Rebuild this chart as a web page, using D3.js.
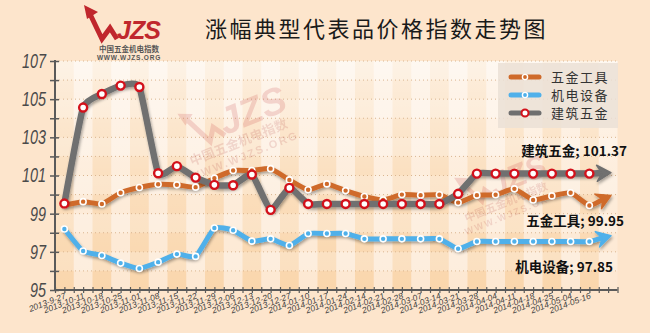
<!DOCTYPE html>
<html>
<head>
<meta charset="utf-8">
<script src="https://cdn.jsdelivr.net/npm/d3@7"></script>
<style>
  body { margin: 0; background: #fde5cc; }
  svg { display: block; }
</style>
</head>
<body>
<svg id="chart"></svg>
<script>
// data
let dates = ['2013-9-27', '2013-10-11', '2013-10-18', '2013-10-25', '2013-11-01', '2013-11-08',
  '2013-11-15', '2013-11-22', '2013-11-29', '2013-12-06', '2013-12-13', '2013-12-20', '2013-12-27',
  '2014-01-10', '2014-01-17', '2014-01-24', '2014-02-14', '2014-02-21', '2014-02-28', '2014-03-07',
  '2014-03-14', '2014-03-21', '2014-03-28', '2014-04-04', '2014-04-11', '2014-04-18', '2014-04-25',
  '2014-05-04', '2014-05-16'];

let tools = [99.45, 99.63, 99.51, 100.1, 100.37, 100.54, 100.51, 100.39, 100.86, 101.26, 101.26, 101.36,
  100.77, 100.25, 100.56, 100.21, 99.9, 99.72, 100.0, 99.97, 99.99, 99.58, 99.97, 99.99, 100.3, 99.72,
  99.93, 100.1, 99.43];
let electric = [98.2, 97.04, 96.81, 96.41, 96.13, 96.46, 96.88, 96.76, 98.25, 98.13, 97.56, 97.68, 97.33,
  97.96, 97.96, 97.96, 97.68, 97.68, 97.68, 97.68, 97.68, 97.16, 97.54, 97.54, 97.54, 97.54, 97.54,
  97.54, 97.54];
let building = [99.53, 104.56, 105.27, 105.71, 105.64, 101.12, 101.49, 100.89, 100.51, 100.49, 101.05,
  99.2, 100.35, 99.51, 99.51, 99.51, 99.51, 99.51, 99.51, 99.51, 99.51, 100.04, 101.1, 101.1, 101.1,
  101.1, 101.1, 101.1, 101.1];

let seriesNames = ['五金工具', '机电设备', '建筑五金'];
let arrowTips = [99.95, 97.85, 101.15];   // where the end arrows point
let latest = ['99.95', '97.85', '101.37'];
let yTicks = [95, 96, 97, 98, 99, 100, 101, 102, 103, 104, 105, 106, 107];

// configuration
let config = { svg: {}, plot: {} };
config.svg.width = 650;
config.svg.height = 333;
config.plot.left = 55;
config.plot.right = 617.5;
config.plot.top = 61;
config.plot.bottom = 290;

let colors = ['#cf6a2a', '#4fb0ea', '#6f6f6f'];
let widths = [5, 5, 6.5];
let labelPos = [
  { x: 624, y: 226 },
  { x: 613, y: 272 },
  { x: 627, y: 156 }
];

let svg = d3.select('#chart')
  .attr('width', config.svg.width)
  .attr('height', config.svg.height);

let defs = svg.append('defs');

let shadow = defs.append('filter').attr('id', 'shadow')
  .attr('x', '-10%').attr('y', '-10%').attr('width', '120%').attr('height', '130%');
shadow.append('feDropShadow')
  .attr('dx', 1).attr('dy', 2).attr('stdDeviation', 1.5)
  .attr('flood-color', '#000').attr('flood-opacity', 0.35);

let fade = defs.append('linearGradient').attr('id', 'fade')
  .attr('x1', 0).attr('y1', 0).attr('x2', 0).attr('y2', 1);
fade.append('stop').attr('offset', '0%').attr('stop-color', '#fff').attr('stop-opacity', 0.6);
fade.append('stop').attr('offset', '55%').attr('stop-color', '#fff').attr('stop-opacity', 0.2);
fade.append('stop').attr('offset', '100%').attr('stop-color', '#fff').attr('stop-opacity', 0);

// scales
let scale = {};
scale.x = d3.scaleLinear().domain([-0.5, 29.5]).range([config.plot.left, config.plot.right]);
scale.y = d3.scaleLinear().domain([95, 107]).range([config.plot.bottom, config.plot.top]);

let colW = scale.x(1) - scale.x(0);

// plaid background
let bg = svg.append('g').attr('id', 'background');
bg.append('rect')
  .attr('x', config.plot.left).attr('y', config.plot.top)
  .attr('width', config.plot.right - config.plot.left)
  .attr('height', config.plot.bottom - config.plot.top)
  .attr('fill', '#fde8d2');

bg.selectAll('rect.col')
  .data(d3.range(0, 30, 2))
  .enter().append('rect')
  .attr('class', 'col')
  .attr('x', d => scale.x(d - 0.5))
  .attr('y', config.plot.top)
  .attr('width', colW)
  .attr('height', config.plot.bottom - config.plot.top)
  .attr('fill', '#f9d1a2')
  .attr('opacity', 0.8);

bg.selectAll('rect.row')
  .data(d3.range(95, 107, 2))
  .enter().append('rect')
  .attr('class', 'row')
  .attr('x', config.plot.left)
  .attr('y', d => scale.y(d + 2))
  .attr('width', config.plot.right - config.plot.left)
  .attr('height', scale.y(106) - scale.y(107))
  .attr('fill', '#fff')
  .attr('opacity', 0.22);

bg.append('rect')
  .attr('x', config.plot.left).attr('y', config.plot.top)
  .attr('width', config.plot.right - config.plot.left)
  .attr('height', config.plot.bottom - config.plot.top)
  .attr('fill', 'url(#fade)');

bg.selectAll('line.grid')
  .data(yTicks.slice(1))
  .enter().append('line')
  .attr('class', 'grid')
  .attr('x1', config.plot.left).attr('x2', config.plot.right)
  .attr('y1', d => scale.y(d)).attr('y2', d => scale.y(d))
  .attr('stroke', '#d9b58f')
  .attr('stroke-width', 1)
  .attr('stroke-dasharray', '1,3');

// watermarks
function watermark(x, y, s, angle) {
  let g = svg.append('g')
    .attr('transform', 'translate(' + x + ',' + y + ') rotate(' + angle + ') scale(' + s + ')')
    .attr('opacity', 0.16);
  g.append('path')
    .attr('d', 'M-30,-22 L-16,8 L-8,-4 L0,8')
    .attr('fill', 'none').attr('stroke', '#c0272d').attr('stroke-width', 5);
  g.append('path')
    .attr('d', 'M-36,-30 L-22,-24 L-33,-16 Z')
    .attr('fill', '#c0272d');
  g.append('text')
    .attr('x', 0).attr('y', 8)
    .attr('font-family', 'Liberation Sans, Arial')
    .attr('font-weight', 'bold').attr('font-style', 'italic')
    .attr('font-size', 38).attr('fill', '#c0272d')
    .text('JZS');
  g.append('text')
    .attr('x', 10).attr('y', 24)
    .attr('text-anchor', 'middle')
    .attr('font-family', 'Noto Sans CJK SC').attr('font-weight', 'bold')
    .attr('font-size', 13).attr('fill', '#b04040')
    .text('中国五金机电指数');
  g.append('text')
    .attr('x', 10).attr('y', 38)
    .attr('text-anchor', 'middle')
    .attr('font-family', 'Liberation Sans, Arial').attr('font-weight', 'bold')
    .attr('font-size', 11).attr('fill', '#b04040').attr('letter-spacing', 2)
    .text('WWW.WJZS.ORG');
}
watermark(222, 128, 1.0, -22);
watermark(492, 190, 0.85, -22);

// axes
let axis = {};
axis.y = d3.axisLeft(scale.y)
  .tickValues(yTicks)
  .tickSize(5)
  .tickPadding(5)
  .tickFormat(d => d % 2 ? d : '');

let gy = svg.append('g')
  .attr('id', 'y-axis')
  .attr('transform', 'translate(' + config.plot.left + ',0)')
  .call(axis.y);
gy.select('.domain').remove();
gy.selectAll('.tick line').attr('x1', 4).attr('stroke', '#5a5a5a').attr('stroke-width', 1.5);
// condensed italic numbers
gy.selectAll('.tick text')
  .attr('font-family', "'Liberation Sans', Arial")
  .attr('font-style', 'italic')
  .attr('font-size', 20)
  .attr('fill', '#4a4a4a')
  .attr('x', -9 / 0.72)
  .attr('transform', 'scale(0.72,1)');

axis.x = d3.axisBottom(scale.x)
  .tickValues(d3.range(-0.5, 29.51, 0.5))
  .tickSize(3)
  .tickFormat('');
let gx = svg.append('g')
  .attr('id', 'x-axis')
  .attr('transform', 'translate(0,' + config.plot.bottom + ')')
  .call(axis.x);
gx.select('.domain').remove();
gx.selectAll('.tick line').attr('y1', -3).attr('stroke', '#5a5a5a').attr('stroke-width', 1.2);

svg.append('line')
  .attr('x1', config.plot.left).attr('x2', config.plot.left)
  .attr('y1', config.plot.top - 1).attr('y2', config.plot.bottom)
  .attr('stroke', '#5a5a5a').attr('stroke-width', 2);
svg.append('line')
  .attr('x1', config.plot.left).attr('x2', config.plot.right)
  .attr('y1', config.plot.bottom).attr('y2', config.plot.bottom)
  .attr('stroke', '#5a5a5a').attr('stroke-width', 2);

// date labels
svg.append('g').attr('id', 'x-labels')
  .selectAll('text')
  .data(dates)
  .enter().append('text')
  .attr('transform', (d, i) => 'translate(' + (scale.x(i) + 2) + ',' + (config.plot.bottom + 8) + ') rotate(-21)')
  .attr('text-anchor', 'end')
  .attr('font-family', 'Liberation Sans, Arial')
  .attr('font-style', 'italic')
  .attr('font-size', 8.5)
  .attr('fill', '#3f3f3f')
  .text(d => d);

// lines
let line = d3.line()
  .x(d => d[0])
  .y(d => d[1])
  .curve(d3.curveCardinal.tension(0.55));

let allSeries = [tools, electric, building];

allSeries.forEach(function(values, k) {
  let pts = values.map((v, i) => [scale.x(i), scale.y(v)]);
  let last = pts[pts.length - 1];
  let tip = [scale.x(29.15), scale.y(arrowTips[k])];
  let ang = Math.atan2(tip[1] - last[1], tip[0] - last[0]);
  let stop = [tip[0] - 8 * Math.cos(ang), tip[1] - 8 * Math.sin(ang)];

  let g = svg.append('g').attr('class', 'series').attr('filter', 'url(#shadow)');
  g.append('path')
    .attr('d', line(pts.concat([stop])))
    .attr('fill', 'none')
    .attr('stroke', colors[k])
    .attr('stroke-width', widths[k])
    .attr('stroke-linecap', 'round')
    .attr('stroke-linejoin', 'round');

  g.append('path')
    .attr('d', 'M0,0 L-14,-8 L-9,0 L-14,8 Z')
    .attr('transform', 'translate(' + tip[0] + ',' + tip[1] + ') rotate(' + (ang * 180 / Math.PI) + ')')
    .attr('fill', colors[k])
    .attr('stroke', colors[k])
    .attr('stroke-width', 1.5)
    .attr('stroke-linejoin', 'round');
});

allSeries.forEach(function(values, k) {
  let dots = svg.append('g').attr('class', 'dots')
    .selectAll('circle')
    .data(values)
    .enter().append('circle')
    .attr('cx', (d, i) => scale.x(i))
    .attr('cy', d => scale.y(d));
  if (k === 2) {
    dots.attr('r', 4).attr('fill', '#fff').attr('stroke', '#d3111b').attr('stroke-width', 2.4);
  } else {
    dots.attr('r', 3).attr('fill', colors[k]).attr('stroke', '#fff').attr('stroke-width', 1.6);
  }
});

// latest values
svg.append('g').attr('id', 'value-labels')
  .selectAll('text')
  .data(seriesNames)
  .enter().append('text')
  .attr('x', (d, i) => labelPos[i].x)
  .attr('y', (d, i) => labelPos[i].y)
  .attr('text-anchor', 'end')
  .attr('font-family', "'Noto Sans CJK SC', 'Liberation Sans'")
  .attr('font-weight', 'bold')
  .attr('font-size', 13.5)
  .attr('fill', '#111')
  .text((d, i) => d + '; ' + latest[i]);

// legend
let legend = svg.append('g').attr('id', 'legend');
legend.append('rect')
  .attr('x', 498).attr('y', 63).attr('width', 120).attr('height', 65)
  .attr('fill', '#ebe0d6').attr('opacity', 0.85);

let items = legend.selectAll('g.item')
  .data(seriesNames)
  .enter().append('g')
  .attr('class', 'item')
  .attr('transform', (d, i) => 'translate(509,' + (77 + i * 18) + ')');
items.append('line')
  .attr('x1', 2).attr('x2', 30)
  .attr('stroke', (d, i) => colors[i])
  .attr('stroke-width', 5)
  .attr('stroke-linecap', 'round');
items.append('circle')
  .attr('cx', 16).attr('r', (d, i) => i === 2 ? 3.5 : 2.6)
  .attr('fill', (d, i) => i === 2 ? '#fff' : colors[i])
  .attr('stroke', (d, i) => i === 2 ? '#d3111b' : '#fff')
  .attr('stroke-width', (d, i) => i === 2 ? 2 : 1.4);
items.append('text')
  .attr('x', 42).attr('y', 5)
  .attr('font-family', 'Noto Sans CJK SC')
  .attr('font-size', 13)
  .attr('fill', '#333')
  .attr('letter-spacing', 1.5)
  .text(d => d);

// title and logo
svg.append('text')
  .attr('x', 205).attr('y', 37)
  .attr('font-family', 'Noto Sans CJK SC')
  .attr('font-size', 22)
  .attr('letter-spacing', 2.5)
  .attr('fill', '#1a1a1a')
  .text('涨幅典型代表品价格指数走势图');

let logo = svg.append('g').attr('id', 'logo');
logo.append('path')
  .attr('d', 'M90,14 L102,39 L110,28 L117,39')
  .attr('fill', 'none').attr('stroke', '#c0272d').attr('stroke-width', 5);
logo.append('path')
  .attr('d', 'M84,5 L98,12 L87,19 Z')
  .attr('fill', '#c0272d');
logo.append('text')
  .attr('x', 117).attr('y', 39)
  .attr('font-family', 'Liberation Sans, Arial')
  .attr('font-weight', 'bold').attr('font-style', 'italic')
  .attr('font-size', 25).attr('fill', '#c0272d')
  .attr('letter-spacing', -1)
  .text('JZS');
logo.append('text')
  .attr('x', 129).attr('y', 52)
  .attr('text-anchor', 'middle')
  .attr('font-family', 'Noto Sans CJK SC').attr('font-weight', 'bold')
  .attr('font-size', 7.5).attr('fill', '#555')
  .text('中国五金机电指数');
logo.append('text')
  .attr('x', 129).attr('y', 60)
  .attr('text-anchor', 'middle')
  .attr('font-family', 'Liberation Sans, Arial').attr('font-weight', 'bold')
  .attr('font-size', 6.5).attr('fill', '#555').attr('letter-spacing', 0.8)
  .text('WWW.WJZS.ORG');
</script>
</body>
</html>
